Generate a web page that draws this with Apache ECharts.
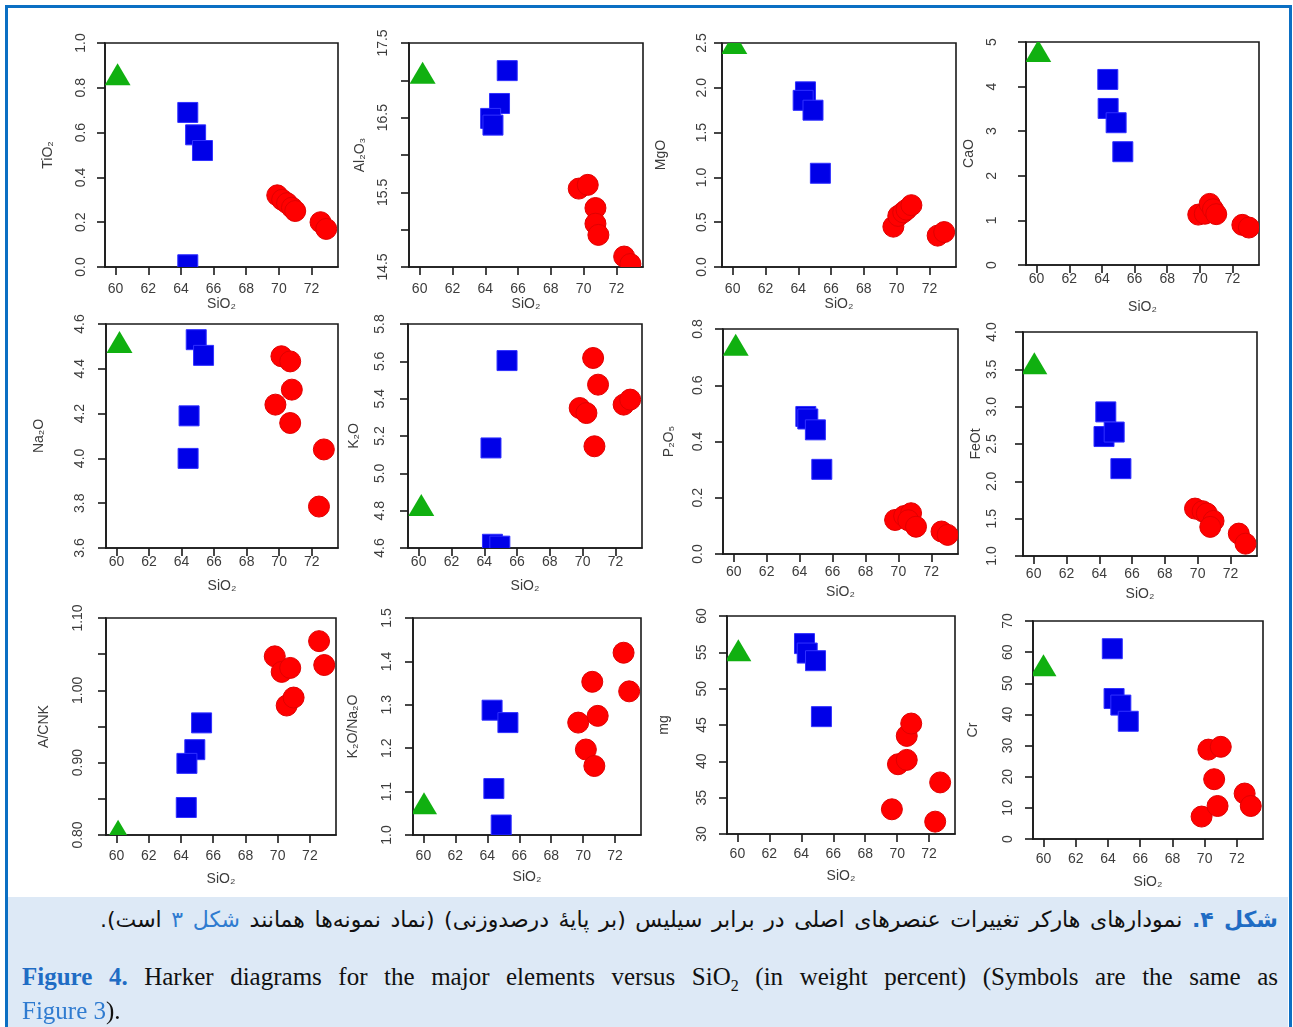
<!DOCTYPE html>
<html>
<head>
<meta charset="utf-8">
<script src="https://cdn.jsdelivr.net/npm/echarts@6/dist/echarts.min.js"></script>
<style>
  html, body { margin: 0; padding: 0; background: #ffffff; width: 1293px; height: 1027px; overflow: hidden; }
  #frame { position: absolute; left: 5px; top: 5px; width: 1281px; height: 1030px; border: 3px solid #0b6fc3; box-sizing: content-box; }
  #chart { position: absolute; left: 0; top: 0; width: 1293px; height: 897px; }
  #cap { position: absolute; left: 8px; top: 897px; width: 1280px; height: 135px; background: #dde9f6; }
  #cap p { margin: 0; color: #111; }
  .fa { position: absolute; left: 92px; width: 1178px; top: 8px; font-family: "DejaVu Sans", "Noto Sans", sans-serif; font-size: 22px; line-height: 30px; direction: rtl; text-align: justify; text-align-last: justify; }
  .en1 { position: absolute; left: 14px; top: 63px; width: 1256px; font-family: "Liberation Serif", "Times New Roman", serif; font-size: 25px; line-height: 34px; text-align: justify; text-align-last: justify; }
  .en2 { position: absolute; left: 14px; top: 97px; width: 1256px; font-family: "Liberation Serif", "Times New Roman", serif; font-size: 25px; line-height: 34px; text-align: left; }
  .bl { color: #1f6cc4; font-weight: bold; }
  .lk { color: #2f7bd0; }
</style>
</head>
<body>
<div id="chart"></div>
<div id="cap">
  <p class="fa" dir="rtl"><span class="bl">شکل ۴.</span> نمودارهای هارکر تغییرات عنصرهای اصلی در برابر سیلیس (بر پایهٔ درصدوزنی) (نماد نمونه‌ها همانند <span class="lk">شکل ۳</span> است).</p>
  <p class="en1"><span class="bl">Figure 4.</span> Harker diagrams for the major elements versus SiO<sub style="font-size:16px">2</sub> (in weight percent) (Symbols are the same as</p>
  <p class="en2"><span class="lk">Figure 3</span>).</p>
</div>
<div id="frame"></div>
<script>
// ---------- data ----------
const xName = 'SiO₂';
const xTicks = [60, 62, 64, 66, 68, 70, 72];
const xMin = 59.35, xMax = 73.62;

const yNames = ['TiO₂', 'Al₂O₃', 'MgO', 'CaO', 'Na₂O', 'K₂O', 'P₂O₅', 'FeOt', 'A/CNK', 'K₂O/Na₂O', 'mg', 'Cr'];
const yMins = [0, 14.5, 0, 0, 3.6, 4.6, 0, 1.0, 0.80, 1.0, 30, 0];
const yMaxs = [1.0, 17.5, 2.5, 5, 4.6, 5.8, 0.8, 4.0, 1.10, 1.5, 60, 70];
const yDecimals = [1, 1, 1, 0, 1, 1, 1, 1, 2, 1, 0, 0];
const yTickValues = [
  [0, 0.2, 0.4, 0.6, 0.8, 1.0],
  [14.5, 15.0, 15.5, 16.0, 16.5, 17.0, 17.5],
  [0, 0.5, 1.0, 1.5, 2.0, 2.5],
  [0, 1, 2, 3, 4, 5],
  [3.6, 3.8, 4.0, 4.2, 4.4, 4.6],
  [4.6, 4.8, 5.0, 5.2, 5.4, 5.6, 5.8],
  [0, 0.2, 0.4, 0.6, 0.8],
  [1.0, 1.5, 2.0, 2.5, 3.0, 3.5, 4.0],
  [0.80, 0.85, 0.90, 0.95, 1.00, 1.05, 1.10],
  [1.0, 1.1, 1.2, 1.3, 1.4, 1.5],
  [30, 35, 40, 45, 50, 55, 60],
  [0, 10, 20, 30, 40, 50, 60, 70]
];
const yLabelValues = [
  [0, 0.2, 0.4, 0.6, 0.8, 1.0],
  [14.5, 15.5, 16.5, 17.5],
  [0, 0.5, 1.0, 1.5, 2.0, 2.5],
  [0, 1, 2, 3, 4, 5],
  [3.6, 3.8, 4.0, 4.2, 4.4, 4.6],
  [4.6, 4.8, 5.0, 5.2, 5.4, 5.6, 5.8],
  [0, 0.2, 0.4, 0.6, 0.8],
  [1.0, 1.5, 2.0, 2.5, 3.0, 3.5, 4.0],
  [0.80, 0.90, 1.00, 1.10],
  [1.0, 1.1, 1.2, 1.3, 1.4, 1.5],
  [30, 35, 40, 45, 50, 55, 60],
  [0, 10, 20, 30, 40, 50, 60, 70]
];

// [SiO2, oxide] pairs per panel: triangle (green), square (blue), circle (red)
const TiO2_tri = [[60.12, 0.86]];
const TiO2_sq = [[64.42, 0.69], [64.9, 0.59], [65.32, 0.52], [64.42, 0.01]];
const TiO2_ci = [[69.9, 0.32], [70.2, 0.30], [70.5, 0.285], [70.8, 0.265], [71.0, 0.25], [72.55, 0.20], [72.9, 0.17]];

const Al2O3_tri = [[60.18, 17.1]];
const Al2O3_sq = [[65.34, 17.13], [64.87, 16.69], [64.33, 16.49], [64.47, 16.40]];
const Al2O3_ci = [[69.7, 15.55], [70.25, 15.6], [70.72, 15.29], [70.72, 15.08], [70.9, 14.93], [72.47, 14.64], [72.85, 14.54]];

const MgO_tri = [[60.1, 2.5]];
const MgO_sq = [[64.44, 1.955], [64.3, 1.86], [64.9, 1.75], [65.35, 1.046]];
const MgO_ci = [[69.8, 0.45], [70.1, 0.57], [70.4, 0.61], [70.6, 0.64], [70.9, 0.69], [72.5, 0.35], [72.9, 0.39]];

const CaO_tri = [[60.1, 4.8]];
const CaO_sq = [[64.36, 4.16], [64.38, 3.51], [64.87, 3.19], [65.28, 2.54]];
const CaO_ci = [[69.9, 1.13], [70.3, 1.15], [70.6, 1.37], [70.8, 1.25], [71.0, 1.14], [72.6, 0.9], [73.0, 0.84]];

const Na2O_tri = [[60.18, 4.52]];
const Na2O_sq = [[64.9, 4.53], [65.35, 4.46], [64.46, 4.19], [64.4, 4.0]];
const Na2O_ci = [[70.14, 4.456], [70.68, 4.433], [70.78, 4.307], [69.77, 4.24], [70.68, 4.158], [72.75, 4.04], [72.45, 3.785]];

const K2O_tri = [[60.16, 4.83]];
const K2O_sq = [[65.39, 5.604], [64.41, 5.136], [64.5, 4.62], [64.95, 4.61]];
const K2O_ci = [[70.64, 5.618], [70.94, 5.475], [69.82, 5.35], [70.23, 5.323], [70.72, 5.145], [72.5, 5.368], [72.9, 5.395]];

const P2O5_tri = [[60.12, 0.744]];
const P2O5_sq = [[64.38, 0.489], [64.5, 0.48], [64.96, 0.4415], [65.35, 0.301]];
const P2O5_ci = [[69.8, 0.121], [70.35, 0.135], [70.77, 0.145], [70.6, 0.12], [71.07, 0.097], [72.62, 0.08], [72.99, 0.068]];

const FeOt_tri = [[60.04, 3.58]];
const FeOt_sq = [[64.4, 2.93], [64.29, 2.6], [64.91, 2.66], [65.32, 2.17]];
const FeOt_ci = [[69.84, 1.635], [70.3, 1.6], [70.56, 1.57], [70.97, 1.47], [70.77, 1.39], [72.51, 1.3], [72.92, 1.165]];

const ACNK_tri = [[60.1, 0.806]];
const ACNK_sq = [[65.28, 0.955], [64.86, 0.918], [64.37, 0.899], [64.33, 0.838]];
const ACNK_ci = [[69.82, 1.047], [70.25, 1.0255], [70.78, 1.031], [70.56, 0.979], [70.99, 0.99], [72.57, 1.068], [72.89, 1.035]];

const KN_tri = [[60.04, 1.073]];
const KN_sq = [[64.3, 1.2876], [65.29, 1.259], [64.41, 1.107], [64.87, 1.023]];
const KN_ci = [[69.69, 1.259], [70.17, 1.197], [70.7, 1.159], [70.57, 1.353], [70.91, 1.2745], [72.53, 1.42], [72.88, 1.331]];

const mg_tri = [[60.06, 55.3]];
const mg_sq = [[64.2, 56.2], [64.37, 54.9], [64.89, 53.85], [65.26, 46.15]];
const mg_ci = [[69.67, 33.4], [70.05, 39.6], [70.6, 40.2], [70.6, 43.5], [70.88, 45.2], [72.38, 31.7], [72.69, 37.1]];

const Cr_tri = [[60.0, 55.8]];
const Cr_sq = [[64.27, 61.1], [64.38, 45.1], [64.8, 43.0], [65.26, 37.8]];
const Cr_ci = [[70.23, 28.7], [71.0, 29.6], [70.59, 19.2], [69.81, 7.2], [70.8, 10.6], [72.48, 14.6], [72.86, 10.6]];

const triData = [TiO2_tri, Al2O3_tri, MgO_tri, CaO_tri, Na2O_tri, K2O_tri, P2O5_tri, FeOt_tri, ACNK_tri, KN_tri, mg_tri, Cr_tri];
const sqData = [TiO2_sq, Al2O3_sq, MgO_sq, CaO_sq, Na2O_sq, K2O_sq, P2O5_sq, FeOt_sq, ACNK_sq, KN_sq, mg_sq, Cr_sq];
const ciData = [TiO2_ci, Al2O3_ci, MgO_ci, CaO_ci, Na2O_ci, K2O_ci, P2O5_ci, FeOt_ci, ACNK_ci, KN_ci, mg_ci, Cr_ci];

// ---------- layout ----------
const gridLeft   = [105, 409, 722, 1026, 106, 408, 723, 1023, 106, 413, 727, 1033];
const gridTop    = [43, 43, 43, 42, 324, 324, 329, 332, 618, 618, 616, 621];
const gridRight  = [338, 643, 956, 1259, 338, 642, 958, 1257, 336, 641, 955, 1263];
const gridBottom = [267, 267, 267, 265, 548, 548, 554, 556, 835, 835, 834, 839];
const xLabelMargin = [15, 15, 15, 7, 7, 7, 11, 11, 14, 14, 13, 13];
const xNameGap = [30, 27, 27, 35, 31, 31, 31, 31, 37, 35, 35, 36];
const yLabelMargin = [17, 19, 13, 27, 19, 21, 18, 24, 21, 19, 18, 18];
const yNameGap = [50, 42, 54, 50, 60, 47, 47, 40, 55, 53, 56, 53];

const axisColor = '#1a1a1a';
const labelColor = '#3c3c3c';
const fontFam = '"Liberation Sans", Arial, sans-serif';

// marker drawers (position comes from the axes through api.coord)
function squareItem(params, api) {
  const p = api.coord([api.value(0), api.value(1)]);
  return { type: 'rect', shape: { x: p[0] - 10, y: p[1] - 10, width: 20, height: 20 },
    style: { fill: '#0000e8', stroke: '#3030ff', lineWidth: 1 } };
}
function circleItem(params, api) {
  const p = api.coord([api.value(0), api.value(1)]);
  return { type: 'circle', shape: { cx: p[0], cy: p[1], r: 10.5 },
    style: { fill: '#ff0000', stroke: '#e00000', lineWidth: 1 } };
}
function triangleItem(params, api) {
  const p = api.coord([api.value(0), api.value(1)]);
  return { type: 'polygon', shape: { points: [[p[0], p[1] - 11], [p[0] + 13, p[1] + 11], [p[0] - 13, p[1] + 11]] },
    style: { fill: '#10b010' } };
}

const grid = [], xAxis = [], yAxis = [], series = [];
for (let i = 0; i < 12; i++) {
  grid.push({
    left: gridLeft[i], top: gridTop[i],
    width: gridRight[i] - gridLeft[i], height: gridBottom[i] - gridTop[i],
    show: true, borderColor: axisColor, borderWidth: 1.6, backgroundColor: 'transparent'
  });
  xAxis.push({
    gridIndex: i, type: 'value', min: xMin, max: xMax,
    name: xName, nameLocation: 'middle', nameGap: xNameGap[i],
    nameTextStyle: { color: labelColor, fontSize: 14, fontFamily: fontFam },
    axisLine: { show: true, onZero: false, lineStyle: { color: axisColor, width: 1.6 } },
    axisTick: { show: true, customValues: xTicks, length: 8, lineStyle: { color: axisColor, width: 1.6 } },
    axisLabel: { customValues: xTicks, margin: xLabelMargin[i], color: labelColor, fontSize: 14, fontFamily: fontFam,
      formatter: v => String(Math.round(v)) },
    splitLine: { show: false }
  });
  const dec = yDecimals[i];
  yAxis.push({
    gridIndex: i, type: 'value', min: yMins[i], max: yMaxs[i],
    name: yNames[i], nameLocation: 'middle', nameGap: yNameGap[i], nameRotate: 90,
    nameTextStyle: { color: labelColor, fontSize: 14, fontFamily: fontFam },
    axisLine: { show: true, onZero: false, lineStyle: { color: axisColor, width: 1.6 } },
    axisTick: { show: true, customValues: yTickValues[i], length: 8, lineStyle: { color: axisColor, width: 1.6 } },
    axisLabel: { customValues: yLabelValues[i], rotate: 90, margin: yLabelMargin[i], color: labelColor, fontSize: 14, fontFamily: fontFam,
      formatter: v => Number(v).toFixed(dec) },
    splitLine: { show: false }
  });
  series.push({ type: 'custom', xAxisIndex: i, yAxisIndex: i, data: sqData[i], clip: true,
    encode: { x: 0, y: 1 }, renderItem: squareItem, z: 2 });
  series.push({ type: 'custom', xAxisIndex: i, yAxisIndex: i, data: ciData[i], clip: true,
    encode: { x: 0, y: 1 }, renderItem: circleItem, z: 2 });
  series.push({ type: 'custom', xAxisIndex: i, yAxisIndex: i, data: triData[i], clip: true,
    encode: { x: 0, y: 1 }, renderItem: triangleItem, z: 2 });
}

const chart = echarts.init(document.getElementById('chart'), null, { renderer: 'canvas' });
chart.setOption({ animation: false, backgroundColor: '#ffffff', grid, xAxis, yAxis, series });
</script>
</body>
</html>
